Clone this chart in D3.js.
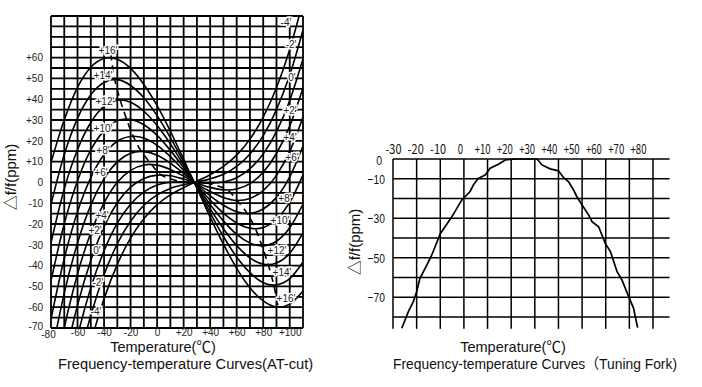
<!DOCTYPE html>
<html>
<head>
<meta charset="utf-8">
<script src="https://cdn.jsdelivr.net/npm/d3@7"></script>
<style>
  body { margin: 0; background: #fff; }
  svg { display: block; }
  .lab { font-family: "Liberation Sans", Arial, sans-serif; font-size: 10px; fill: #222; }
  .jp { font-family: "Noto Sans CJK JP", sans-serif; font-size: 13px; fill: #111; }
  .num { font-family: "Liberation Sans", Arial, sans-serif; font-size: 13.5px; fill: #111; }
  .ttl { font-family: "Liberation Sans", "Noto Sans CJK JP", sans-serif; font-size: 14.5px; fill: #111; }
</style>
</head>
<body>
<div id="vizholder"></div>
<script>
// ---- AT-cut chart: temperature samples (deg C) and ppm per cut angle ----
var atTemps = [-80, -70, -60, -50, -40, -30, -20, -10, 0, 10, 20, 30, 40, 50, 60, 70, 80, 90, 100, 110];
var cutP16 = [9.5, 30.1, 45.7, 55.4, 59.6, 59.2, 54.8, 47.1, 36.9, 24.6, 11.1, -2.8, -16.7, -29.7, -41.3, -50.6, -57.0, -59.9, -58.5, -52.2];
var cutP14 = [-10.6, 13.4, 30.8, 42.1, 48.0, 49.4, 46.6, 40.7, 32.1, 21.5, 9.8, -2.5, -14.6, -26.0, -35.9, -43.4, -48.2, -49.3, -46.3, -38.3];
var cutP12 = [-29.0, -3.2, 15.8, 28.8, 36.5, 39.5, 38.5, 34.2, 27.3, 18.5, 8.4, -2.1, -12.6, -22.3, -30.4, -36.3, -39.3, -38.8, -34.1, -24.3];
var cutP10 = [-47.3, -19.9, 0.8, 15.6, 24.9, 29.7, 30.3, 27.7, 22.6, 15.4, 7.1, -1.8, -10.6, -18.5, -25.0, -29.1, -30.5, -28.3, -21.8, -10.4];
var cutP8 = [-65.7, -36.6, -14.1, 2.3, 13.4, 19.8, 22.1, 21.3, 17.8, 12.4, 5.7, -1.5, -8.5, -14.8, -19.5, -22.0, -21.7, -17.7, -9.6, 3.6];
var cutP6 = [-84.1, -53.2, -29.1, -10.9, 1.8, 9.9, 14.0, 14.8, 13.1, 9.3, 4.3, -1.1, -6.5, -11.0, -14.1, -14.9, -12.8, -7.2, 2.7, 17.5];
var cutP4 = [-102.4, -69.9, -44.0, -24.2, -9.8, 0.1, 5.8, 8.4, 8.3, 6.2, 3.0, -0.8, -4.4, -7.3, -8.7, -7.7, -4.0, 3.4, 14.9, 31.4];
var cutP2 = [-120.8, -86.5, -59.0, -37.5, -21.3, -9.8, -2.3, 1.9, 3.5, 3.2, 1.6, -0.4, -2.4, -3.6, -3.2, -0.6, 4.9, 13.9, 27.1, 45.4];
var cutZ0 = [-139.1, -103.2, -74.0, -50.7, -32.9, -19.6, -10.5, -4.6, -1.2, 0.1, 0.3, -0.1, -0.4, 0.2, 2.2, 6.6, 13.7, 24.4, 39.4, 59.3];
var cutM2 = [-157.5, -119.9, -88.9, -64.0, -44.4, -29.5, -18.7, -11.0, -6.0, -2.9, -1.1, 0.2, 1.7, 3.9, 7.7, 13.7, 22.5, 35.0, 51.6, 73.3];
var cutM4 = [-175.9, -136.5, -103.9, -77.2, -56.0, -39.4, -26.8, -17.5, -10.7, -6.0, -2.5, 0.6, 3.7, 7.7, 13.1, 20.8, 31.4, 45.5, 63.9, 87.2];

// turnover locus (dashed)
var turnTemps = [-35, -32, -28, -23, -18, -12, -4, 3, 19, 28, 37, 53, 60, 68, 74, 79, 84, 88, 91];
var turnVals = [62, 49.5, 40, 30.4, 22.1, 15, 8.5, 3.6, 0.3, 0, -0.3, -3.6, -8.5, -15, -22.1, -30.4, -40, -49.5, -59];

// curve labels
var labNames = ["+16'", "+14'", "+12'", "+10'", "+8'", "+6'", "+4'", "+2'", "0'", "-2'", "-4'"];
var labLeftT = [-37, -40.8, -39.3, -40.8, -40.8, -42.3, -41.5, -46.8, -45.3, -44.6, -46.1];
var labLeftV = [63.2, 51.2, 39.1, 25.7, 15.1, 5, -15.7, -22.9, -32.5, -47.9, -62.3];
var labRightT = [97.2, 94.2, 90.4, 92.7, 96.4, 101.7, 100.2, 100.2, 101.7, 101, 97.2];
var labRightV = [-55.6, -43.1, -32.5, -18.1, -7.5, 12.2, 21.8, 34.8, 50.2, 66.1, 77.1];

var atXTicks = [-80, -60, -40, -20, 0, 20, 40, 60, 80, 100];
var atYTicks = [-70, -60, -50, -40, -30, -20, -10, 0, 10, 20, 30, 40, 50, 60];

// ---- Tuning fork chart ----
var tfTemps = [-26.3, -24.9, -23.5, -21.4, -20, -18.6, -15.7, -13.6, -12.2, -10.1, -8, -5.1, -3, -0.9, 0.5, 2.6, 4, 6.1, 9, 11.1, 14.6, 17.5, 21.7, 28.8, 31, 33, 36.5, 40, 42.2, 44.3, 46.4, 47.8, 50, 52.8, 54.2, 57, 58.4, 59.8, 62, 63.4, 64.8, 66.9, 68.3, 69.7, 71.8, 72.5, 73.5];
var tfVals = [-85.7, -81.5, -77.3, -72.2, -67.2, -60.4, -53.7, -48.6, -44.4, -38.1, -34.3, -29.2, -25, -20.8, -19.1, -16.5, -13.2, -9.8, -8.1, -4.7, -2.7, -0.5, 0, 0, 0, -3, -5, -6, -9.5, -11.5, -15.7, -19.1, -23.3, -28.4, -31.7, -34.3, -38.5, -42.7, -46.9, -52, -57, -61.3, -65.5, -69.7, -75.6, -79.8, -85.4];
var tfXTicks = [-30, -20, -10, 0, 10, 20, 30, 40, 50, 60, 70, 80];
var tfYTicks = [0, -10, -30, -50, -70];

var svg = d3.select("#vizholder").append("svg").attr("width", 702).attr("height", 387);

function signed(d){ return d > 0 ? "+" + d : "" + d; }

// ================= left chart =================
var xL = d3.scaleLinear().domain([-80, 110]).range([51, 303]);
var yL = d3.scaleLinear().domain([-70, 80]).range([328, 16]);

var gL = svg.append("g");

gL.selectAll(".vg").data(d3.range(-80, 111, 10)).enter().append("line")
  .attr("x1", function(d){ return xL(d); }).attr("x2", function(d){ return xL(d); })
  .attr("y1", yL(80)).attr("y2", yL(-70))
  .attr("stroke", "#000").attr("stroke-width", 1.8);
gL.selectAll(".hg").data(d3.range(-70, 81, 5)).enter().append("line")
  .attr("x1", xL(-80)).attr("x2", xL(110))
  .attr("y1", function(d){ return yL(d); }).attr("y2", function(d){ return yL(d); })
  .attr("stroke", "#000").attr("stroke-width", 1.8);

svg.append("clipPath").attr("id", "clipL").append("rect")
  .attr("x", xL(-80)).attr("y", yL(80))
  .attr("width", xL(110) - xL(-80)).attr("height", yL(-70) - yL(80));

var curves = [cutP16, cutP14, cutP12, cutP10, cutP8, cutP6, cutP4, cutP2, cutZ0, cutM2, cutM4];
var lineL = d3.line()
  .x(function(d, i){ return xL(atTemps[i]); })
  .y(function(d){ return yL(d); })
  .curve(d3.curveCardinal);

var cg = gL.append("g").attr("clip-path", "url(#clipL)");
cg.selectAll(".cv").data(curves).enter().append("path")
  .attr("d", lineL).attr("fill", "none").attr("stroke", "#000").attr("stroke-width", 1.6);

cg.append("path")
  .attr("d", d3.line().x(function(d, i){ return xL(turnTemps[i]); }).y(function(d){ return yL(d); }).curve(d3.curveCatmullRom)(turnVals))
  .attr("fill", "none").attr("stroke", "#000").attr("stroke-width", 1.6)
  .attr("stroke-dasharray", "7,5");

function curveLabels(ts, vs){
  gL.selectAll(null).data(labNames).enter().append("text")
    .attr("class", "lab")
    .attr("x", function(d, i){ return xL(ts[i]); })
    .attr("y", function(d, i){ return yL(vs[i]); })
    .attr("text-anchor", "middle").attr("dy", "0.35em")
    .style("paint-order", "stroke").style("stroke", "#fff").style("stroke-width", 3)
    .text(function(d){ return d; });
}
curveLabels(labLeftT, labLeftV);
curveLabels(labRightT, labRightV);

var axYL = gL.append("g").attr("transform", "translate(" + xL(-80) + ",0)")
  .call(d3.axisLeft(yL).tickValues(atYTicks).tickFormat(signed).tickSize(0).tickPadding(8));
var axXL = gL.append("g").attr("transform", "translate(0," + yL(-70) + ")")
  .call(d3.axisBottom(xL).tickValues(atXTicks).tickFormat(signed).tickSize(0).tickPadding(1));
[axYL, axXL].forEach(function(a){
  a.select(".domain").remove();
  a.selectAll("text").attr("class", "lab").attr("fill", null).style("font-size", "10px");
});
axYL.selectAll("text").filter(function(d){ return d === -70; }).attr("dy", "0.1em");
axXL.selectAll("text").filter(function(d){ return d === -80; }).attr("dx", "-3").attr("dy", "0.9em");

gL.append("text").attr("transform", "translate(16,177) rotate(-90)")
  .attr("text-anchor", "middle").attr("class", "ttl").style("font-size", "15px").text("△f/f(ppm)");
gL.append("text").attr("x", 163).attr("y", 352).attr("text-anchor", "middle")
  .attr("class", "ttl").text("Temperature(℃)");
gL.append("text").attr("x", 58).attr("y", 369)
  .attr("class", "ttl").style("font-size", "14.7px")
  .text("Frequency-temperature Curves(AT-cut)");

// ================= right chart =================
var xR = d3.scaleLinear().domain([-30, 80]).range([393, 653]);
var xRLab = d3.scaleLinear().domain([-30, 80]).range([393, 638]);
var yR = d3.scaleLinear().domain([0, -80]).range([159, 317]);

var gR = svg.append("g");
gR.selectAll(".vg").data(tfXTicks).enter().append("line")
  .attr("x1", function(d){ return xR(d); }).attr("x2", function(d){ return xR(d); })
  .attr("y1", yR(0)).attr("y2", yR(-86))
  .attr("stroke", "#000").attr("stroke-width", 1.5);
gR.selectAll(".hg").data(d3.range(0, -81, -10)).enter().append("line")
  .attr("x1", xR(-30)).attr("x2", xR(87))
  .attr("y1", function(d){ return yR(d); }).attr("y2", function(d){ return yR(d); })
  .attr("stroke", "#000").attr("stroke-width", 1.5);

gR.append("path")
  .attr("d", d3.line().x(function(d, i){ return xR(tfTemps[i]); }).y(function(d){ return yR(d); })(tfVals))
  .attr("fill", "none").attr("stroke", "#000").attr("stroke-width", 1.7);

var axXR = gR.append("g").attr("transform", "translate(0," + yR(0) + ")")
  .call(d3.axisTop(xRLab).tickValues(tfXTicks).tickFormat(signed).tickSize(0).tickPadding(5));
var axYR = gR.append("g").attr("transform", "translate(" + xR(-30) + ",0)")
  .call(d3.axisLeft(yR).tickValues(tfYTicks).tickSize(0).tickPadding(8));
[axXR, axYR].forEach(function(a){
  a.select(".domain").remove();
  a.selectAll("text").attr("class", "jp").attr("fill", null);
});
// narrow half-width digits as in the original
axXR.selectAll("text")
  .attr("textLength", function(d){ return 5.3 * signed(d).length; })
  .attr("lengthAdjust", "spacingAndGlyphs");
axYR.selectAll("text").attr("class", "num")
  .attr("textLength", function(d){ return 5.8 * String(d).length; })
  .attr("lengthAdjust", "spacingAndGlyphs");
axYR.selectAll("text").filter(function(d){ return d === 0; }).attr("dx", "-3").attr("dy", "0.4em");

gR.append("text").attr("transform", "translate(360,242) rotate(-90)")
  .attr("text-anchor", "middle").attr("class", "ttl").style("font-size", "15px").text("△f/f(ppm)");
gR.append("text").attr("x", 513).attr("y", 352).attr("text-anchor", "middle")
  .attr("class", "ttl").text("Temperature(℃)");
gR.append("text").attr("x", 393).attr("y", 369)
  .attr("class", "ttl").attr("textLength", 284).attr("lengthAdjust", "spacingAndGlyphs")
  .text("Frequency-temperature Curves（Tuning Fork)");
</script>
</body>
</html>
